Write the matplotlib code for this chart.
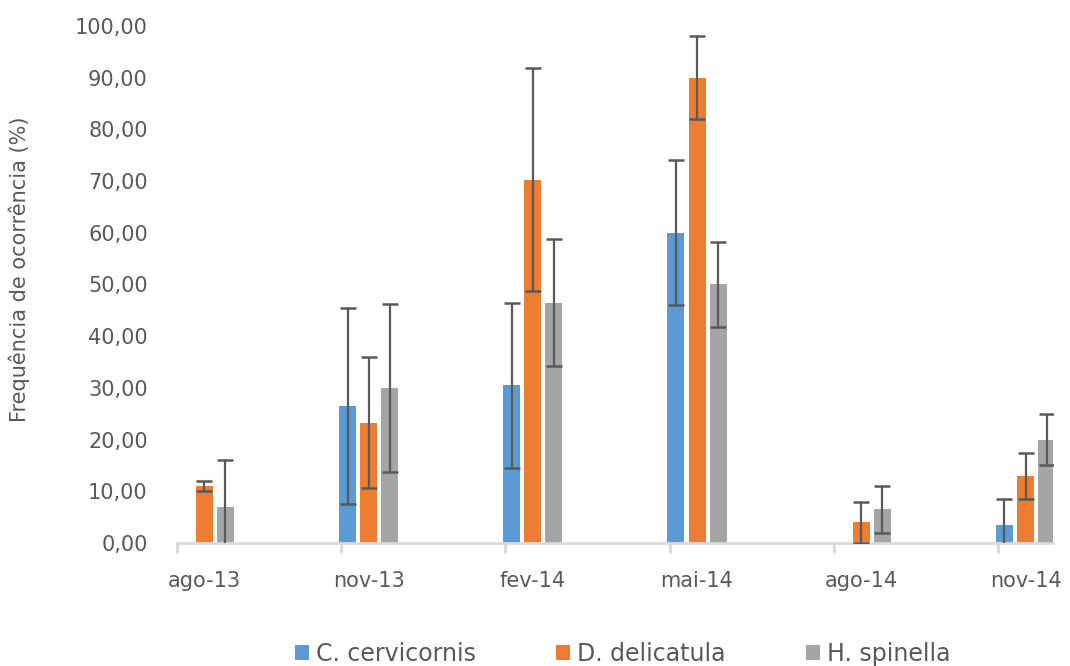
import numpy as np
from matplotlib import pyplot as plt
from matplotlib.ticker import FuncFormatter, FixedLocator

# months since ago-13 (date axis, one slot per month)
months = [0, 3, 6, 9, 12, 15]
labels = ['ago-13', 'nov-13', 'fev-14', 'mai-14', 'ago-14', 'nov-14']

cervicornis = [0, 26.5, 30.5, 60.0, 0, 3.5]
cervicornis_err = [0, 19.0, 16.0, 14.0, 0, 5.0]
delicatula = [11.0, 23.3, 70.3, 90.0, 4.0, 13.0]
delicatula_err = [1.0, 12.6, 21.6, 8.0, 4.0, 4.4]
spinella = [7.0, 30.0, 46.5, 50.0, 6.5, 20.0]
spinella_err = [9.0, 16.2, 12.3, 8.2, 4.5, 5.0]

series = [
    ('C. cervicornis', cervicornis, cervicornis_err, '#5B9BD5'),
    ('D. delicatula', delicatula, delicatula_err, '#ED7D31'),
    ('H. spinella', spinella, spinella_err, '#A5A5A5'),
]

text_col = '#595959'
fig = plt.figure(figsize=(10.7, 6.66), dpi=100)
ax = fig.add_axes([0.1654, 0.1847, 0.8186, 0.7763])

width = 0.31
step = 0.385
for i, (name, vals, errs, col) in enumerate(series):
    x = np.array(months) + (i - 1) * step
    ax.bar(x, vals, width=width, color=col, label=name, zorder=2)
    vals = np.array(vals, dtype=float)
    errs = np.array(errs, dtype=float)
    keep = errs > 0
    ax.errorbar(x[keep], vals[keep], yerr=errs[keep], fmt='none',
                ecolor=text_col, elinewidth=1.6, capsize=5.5, capthick=1.8, zorder=3)

ax.set_xlim(-0.5, 15.5)
ax.set_ylim(0, 100)
ax.set_yticks(np.arange(0, 101, 10))
ax.yaxis.set_major_formatter(FuncFormatter(lambda v, p: f'{v:.2f}'.replace('.', ',')))
ax.set_xticks(months)
ax.set_xticklabels(labels)
ax.xaxis.set_minor_locator(FixedLocator([-0.5, 2.5, 5.5, 8.5, 11.5, 14.5]))

for s in ['top', 'right', 'left']:
    ax.spines[s].set_visible(False)
ax.spines['bottom'].set_color('#D9D9D9')
ax.spines['bottom'].set_linewidth(2)

ax.tick_params(axis='y', length=0, pad=21, labelsize=15, labelcolor=text_col)
ax.tick_params(axis='x', which='major', length=0, pad=20, labelsize=15, labelcolor=text_col)
ax.tick_params(axis='x', which='minor', length=7, width=2, color='#D9D9D9')

ax.set_ylabel('Frequência de ocorrência (%)', fontsize=15, color=text_col)
ax.yaxis.set_label_coords(-0.168, 0.53)

fig.legend(loc='center', bbox_to_anchor=(0.582, 0.018), ncol=3, frameon=False,
           fontsize=17, labelcolor=text_col, handlelength=0.6, handleheight=0.6,
           handletextpad=0.3, columnspacing=3.4)

fig.savefig('out.png', dpi=100)
